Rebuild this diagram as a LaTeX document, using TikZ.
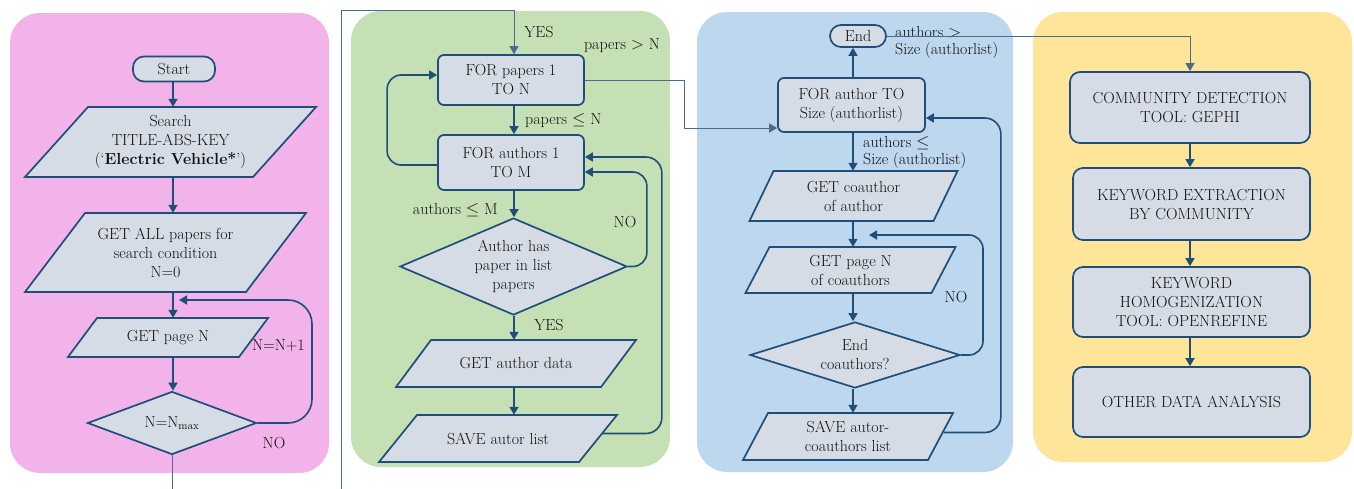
\documentclass[tikz,border=0pt]{standalone}
\usetikzlibrary{shapes.geometric,arrows.meta}
\definecolor{navy}{HTML}{1F4E79}
\definecolor{thinc}{HTML}{4A6B8C}
\definecolor{nfill}{HTML}{D6DCE5}
\definecolor{pinkp}{HTML}{F2B2EA}
\definecolor{greenp}{HTML}{C6E0B5}
\definecolor{bluep}{HTML}{BDD7EE}
\definecolor{yellowp}{HTML}{FFE59A}
\definecolor{txt}{HTML}{111111}
\newcommand{\nf}{\fontsize{16}{19}\selectfont}
% name, cx, cy, middle width, height, slant, text
\newcommand{\myparanode}[7]{%
  \draw[pshape] ({#2-#4/2+#6/2},{#3-#5/2}) -- ({#2+#4/2+#6/2},{#3-#5/2}) -- ({#2+#4/2-#6/2},{#3+#5/2}) -- ({#2-#4/2-#6/2},{#3+#5/2}) -- cycle;
  \node[ptext, minimum width=#4pt, minimum height=#5pt] (#1) at (#2,#3) {#7};
}
\begin{document}
\begin{tikzpicture}[x=1pt,y=-1pt,
  base/.style={draw=navy, line width=1.7pt, fill=nfill, text=txt, font=\nf, align=center, inner sep=1pt},
  boxr/.style={base, rectangle, rounded corners=6pt},
  term/.style={base, rectangle, rounded corners=11pt},
  pshape/.style={draw=navy, line width=1.7pt, fill=nfill, line join=miter},
  ptext/.style={rectangle, draw=none, fill=none, text=txt, font=\nf, align=center, inner sep=0pt},
  dia/.style={base, diamond, inner sep=0pt},
  lab/.style={font=\nf, text=txt, inner sep=1pt},
  arr/.style={draw=navy, line width=1.6pt, -{Triangle[width=9pt,length=8pt]}},
  conn/.style={draw=thinc, line width=0.8pt, -{Triangle[width=9pt,length=8pt]}},
  panel/.style={rounded corners=30pt, draw=none}
]
\useasboundingbox (0,0) rectangle (1354,488);
\clip (0,0) rectangle (1354,488);
% panels
\fill[pinkp, panel] (10,13) rectangle (329,473);
\fill[greenp, panel] (351,11) rectangle (670,467);
\fill[bluep, panel] (697,12) rectangle (1013,472);
\fill[yellowp, panel] (1033,12) rectangle (1352,462);

% axes
\coordinate (ax1) at (173,0);
\coordinate (ax2) at (514,0);
\coordinate (ax3) at (853,0);
\coordinate (ax4) at (1190,0);

% panel 1
\node[term, minimum width=82pt, minimum height=25pt] (start) at (174,69) {Start};
\myparanode{search}{170.5}{142}{228}{70}{63}{Search\\TITLE-ABS-KEY\\(`\textbf{Electric Vehicle*}')}
\myparanode{getall}{165.5}{252.5}{221}{79}{60}{GET ALL papers for\\search condition\\N=0}
\myparanode{getpage}{168}{337.5}{171}{39}{29}{GET page N}
\node[dia, minimum width=169pt, minimum height=63pt] (dia1) at (172,423) {};
\node[ptext] (dia1t) at (dia1) {N=N$_{\mathrm{max}}$};
\coordinate (in1) at (179,300);

\draw[arr] (ax1 |- start.south) -- (ax1 |- search.north);
\draw[arr] (ax1 |- search.south) -- (ax1 |- getall.north);
\draw[arr] (ax1 |- getall.south) -- (ax1 |- getpage.north);
\draw[arr] (ax1 |- getpage.south) -- (ax1 |- dia1.north);
\draw[arr, rounded corners=24pt] (dia1.east) -| (312,300) -- (in1);
\node[lab, anchor=east] (lnn) at (306,346) {N=N+1};
\node[lab] (lno1) at (274,443) {NO};

% panel 2
\node[boxr, minimum width=146pt, minimum height=50pt] (forpapers) at (511,80) {FOR papers 1\\TO N};
\node[boxr, minimum width=146pt, minimum height=55pt] (forauthors) at (511,162.5) {FOR authors 1\\TO M};
\node[dia, minimum width=227pt, minimum height=97pt] (dia2) at (513.5,266.5) {};
\node[ptext] (dia2t) at (dia2) {Author has\\paper in list\\papers};
\myparanode{getauthor}{516}{363.5}{205}{47}{35}{GET author data}
\myparanode{saveautor}{498}{438.5}{200}{47}{38}{SAVE autor list}

\draw[conn] (dia1.south) |- (341,500) -- (341,10) -| (ax2 |- forpapers.north);
\node[lab] (lyes1) at (539,32) {YES};
\node[lab] (lpgt) at (622,46) {papers $>$ N};
\draw[arr] (ax2 |- forpapers.south) -- (ax2 |- forauthors.north);
\node[lab, anchor=west] (lple) at (524,121) {papers $\leq$ N};
\draw[arr, rounded corners=14pt] ([yshift=-2.5pt]forauthors.west) -| ([xshift=-50pt,yshift=5pt]forpapers.west) -- ([yshift=5pt]forpapers.west);
\draw[arr] (ax2 |- forauthors.south) -- (ax2 |- dia2.north);
\node[lab, anchor=east] (lale) at (499,210) {authors $\leq$ M};
\draw[arr, rounded corners=14pt] (dia2.east) -| ([xshift=62pt,yshift=-9.5pt]forauthors.east) -- ([yshift=-9.5pt]forauthors.east);
\node[lab] (lno2) at (625,222) {NO};
\draw[arr] (ax2 |- dia2.south) -- (ax2 |- getauthor.north);
\node[lab] (lyes2) at (549,325) {YES};
\draw[arr] (ax2 |- getauthor.south) -- (ax2 |- saveautor.north);
\draw[arr, rounded corners=16pt] ([xshift=4pt,yshift=5pt]saveautor.east) -| ([xshift=77pt,yshift=5.5pt]forauthors.east) -- ([yshift=5.5pt]forauthors.east);

% panel 3
\node[term, minimum width=56pt, minimum height=22pt] (endnode) at (858,36) {End};
\node[boxr, minimum width=147pt, minimum height=54pt] (forauthor) at (851.5,105) {FOR author TO\\Size (authorlist)};
\myparanode{getco}{853.5}{196}{184}{50}{24}{GET coauthor\\of author}
\myparanode{getpageco}{850.5}{270}{186}{46}{24}{GET page N\\of coauthors}
\node[dia, minimum width=210pt, minimum height=66pt] (dia3) at (855,355) {};
\node[ptext] (dia3t) at (dia3) {End\\coauthors?};
\myparanode{saveco}{848}{436.5}{185}{47}{25}{SAVE autor-\\coauthors list}
\coordinate (in3) at (869,235);

\draw[conn] (forpapers.east) -| ([xshift=-93pt,yshift=-23pt]forauthor.west) -- ([yshift=-23pt]forauthor.west);
\draw[arr] (ax3 |- forauthor.north) -- (ax3 |- endnode.south);
\node[lab, anchor=west, align=left, font=\fontsize{16}{17}\selectfont] (lagt) at (894,42) {authors $>$\\Size (authorlist)};
\draw[arr] (ax3 |- forauthor.south) -- (ax3 |- getco.north);
\node[lab, anchor=west, align=left, font=\fontsize{16}{17}\selectfont] (lalt) at (862,152) {authors $\leq$\\Size (authorlist)};
\draw[arr] (ax3 |- getco.south) -- (ax3 |- getpageco.north);
\draw[arr] (ax3 |- getpageco.south) -- (ax3 |- dia3.north);
\draw[arr, rounded corners=14pt] (dia3.east) -| (983,235) -- (in3);
\node[lab] (lno3) at (956,297) {NO};
\draw[arr] (ax3 |- dia3.south) -- (ax3 |- saveco.north);
\draw[arr, rounded corners=16pt] ([xshift=3pt,yshift=4pt]saveco.east) -| ([xshift=75pt,yshift=-13pt]forauthor.east) -- ([yshift=-13pt]forauthor.east);

% panel 4
\node[boxr, rounded corners=10pt, minimum width=240pt, minimum height=71pt] (comm) at (1190,107.5) {COMMUNITY DETECTION\\TOOL: GEPHI};
\node[boxr, rounded corners=10pt, minimum width=237pt, minimum height=72pt] (kext) at (1191.5,204) {KEYWORD EXTRACTION\\BY COMMUNITY};
\node[boxr, rounded corners=10pt, minimum width=237pt, minimum height=70pt] (khom) at (1191.5,302) {KEYWORD\\HOMOGENIZATION\\TOOL: OPENREFINE};
\node[boxr, rounded corners=10pt, minimum width=237pt, minimum height=70pt] (other) at (1191.5,402) {OTHER DATA ANALYSIS};

\draw[conn] (endnode.east) -| (ax4 |- comm.north);
\draw[arr] (ax4 |- comm.south) -- (ax4 |- kext.north);
\draw[arr] (ax4 |- kext.south) -- (ax4 |- khom.north);
\draw[arr] (ax4 |- khom.south) -- (ax4 |- other.north);
\end{tikzpicture}
\end{document}
